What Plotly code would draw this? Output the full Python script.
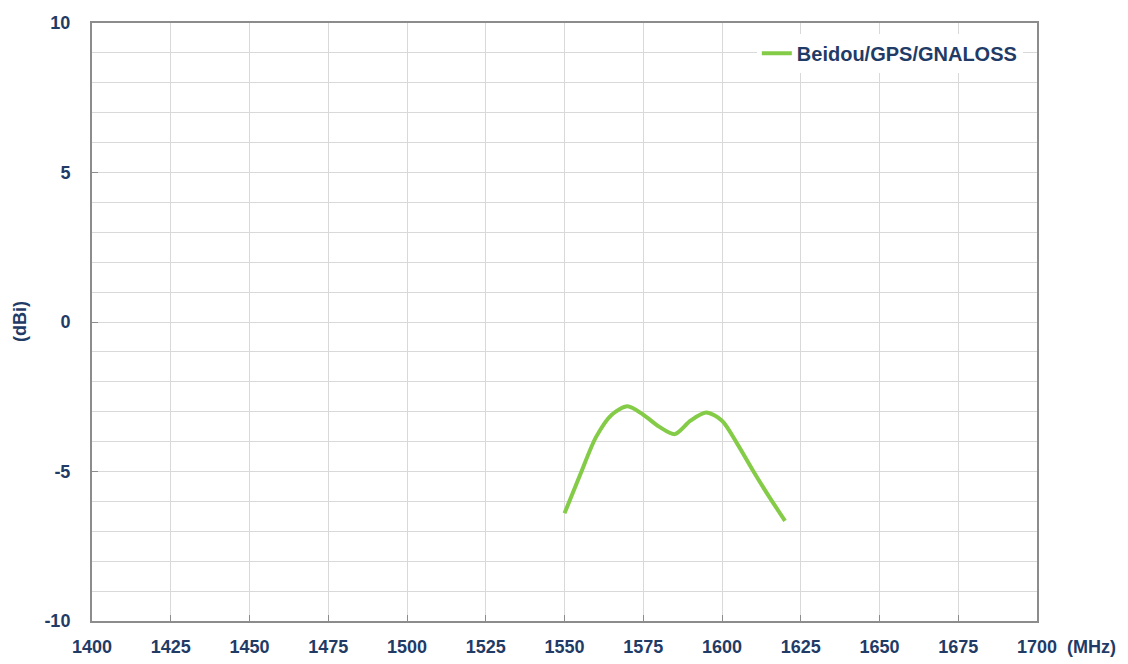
import plotly.graph_objects as go

freq_mhz = [1550, 1555, 1560, 1565, 1570, 1575, 1580, 1585, 1590, 1595, 1600, 1605, 1610, 1615, 1620]
gain_dbi = [-6.4, -5.1, -3.85, -3.1, -2.82, -3.1, -3.5, -3.75, -3.3, -3.03, -3.3, -4.1, -5.0, -5.85, -6.65]
series_name = "Beidou/GPS/GNALOSS"
x_ticks = [1400, 1425, 1450, 1475, 1500, 1525, 1550, 1575, 1600, 1625, 1650, 1675, 1700]
y_ticks = [-10, -5, 0, 5, 10]

TXT = "#1F3B66"
FONT = "Liberation Sans, Arial, sans-serif"
GRID = "#D9D9D9"
AX = "#8C8C8C"

fig = go.Figure()
fig.add_trace(go.Scatter(
    x=freq_mhz, y=gain_dbi, mode="lines", name=series_name,
    line=dict(color="#84CC47", width=4, shape="spline", smoothing=0.8),
    showlegend=True,
))

fig.update_layout(
    width=1128, height=664,
    margin=dict(l=84, r=99, t=15, b=51, autoexpand=False),
    paper_bgcolor="white", plot_bgcolor="white",
    showlegend=True,
    legend=dict(
        x=0.985, xanchor="right", y=0.982, yanchor="top",
        bgcolor="white", borderwidth=0,
        font=dict(family=FONT, size=20, color=TXT, weight="bold"),
    ),
    xaxis=dict(
        range=[1400, 1700], tickvals=x_ticks, ticktext=[str(v) for v in x_ticks],
        showgrid=True, gridcolor=GRID, gridwidth=1,
        showline=True, linecolor=AX, linewidth=2, mirror=True,
        ticks="inside", ticklen=6, tickcolor=AX, tickwidth=1,
        tickfont=dict(family=FONT, size=18, color=TXT, weight="bold"),
        ticklabelstandoff=8,
        zeroline=False, fixedrange=True,
    ),
    yaxis=dict(
        range=[-10, 10], tickvals=y_ticks, ticktext=[str(v) for v in y_ticks],
        showgrid=True, gridcolor=GRID, gridwidth=1,
        minor=dict(dtick=1, showgrid=True, gridcolor=GRID, gridwidth=1),
        showline=True, linecolor=AX, linewidth=2, mirror=True,
        ticks="inside", ticklen=6, tickcolor=AX, tickwidth=1,
        tickfont=dict(family=FONT, size=18, color=TXT, weight="bold"),
        ticklabelstandoff=16,
        zeroline=False, fixedrange=True,
    ),
    annotations=[
        dict(text="(MHz)", xref="paper", yref="paper", x=1.058, y=0, xanchor="center",
             yanchor="middle", yshift=-26, showarrow=False,
             font=dict(family=FONT, size=18, color=TXT, weight="bold")),
        dict(text="(dBi)", xref="paper", yref="paper", x=0, xshift=-72, y=0.5,
             xanchor="center", yanchor="middle", textangle=-90, showarrow=False,
             font=dict(family=FONT, size=18, color=TXT, weight="bold")),
    ],
)

fig.write_html("out.html")
